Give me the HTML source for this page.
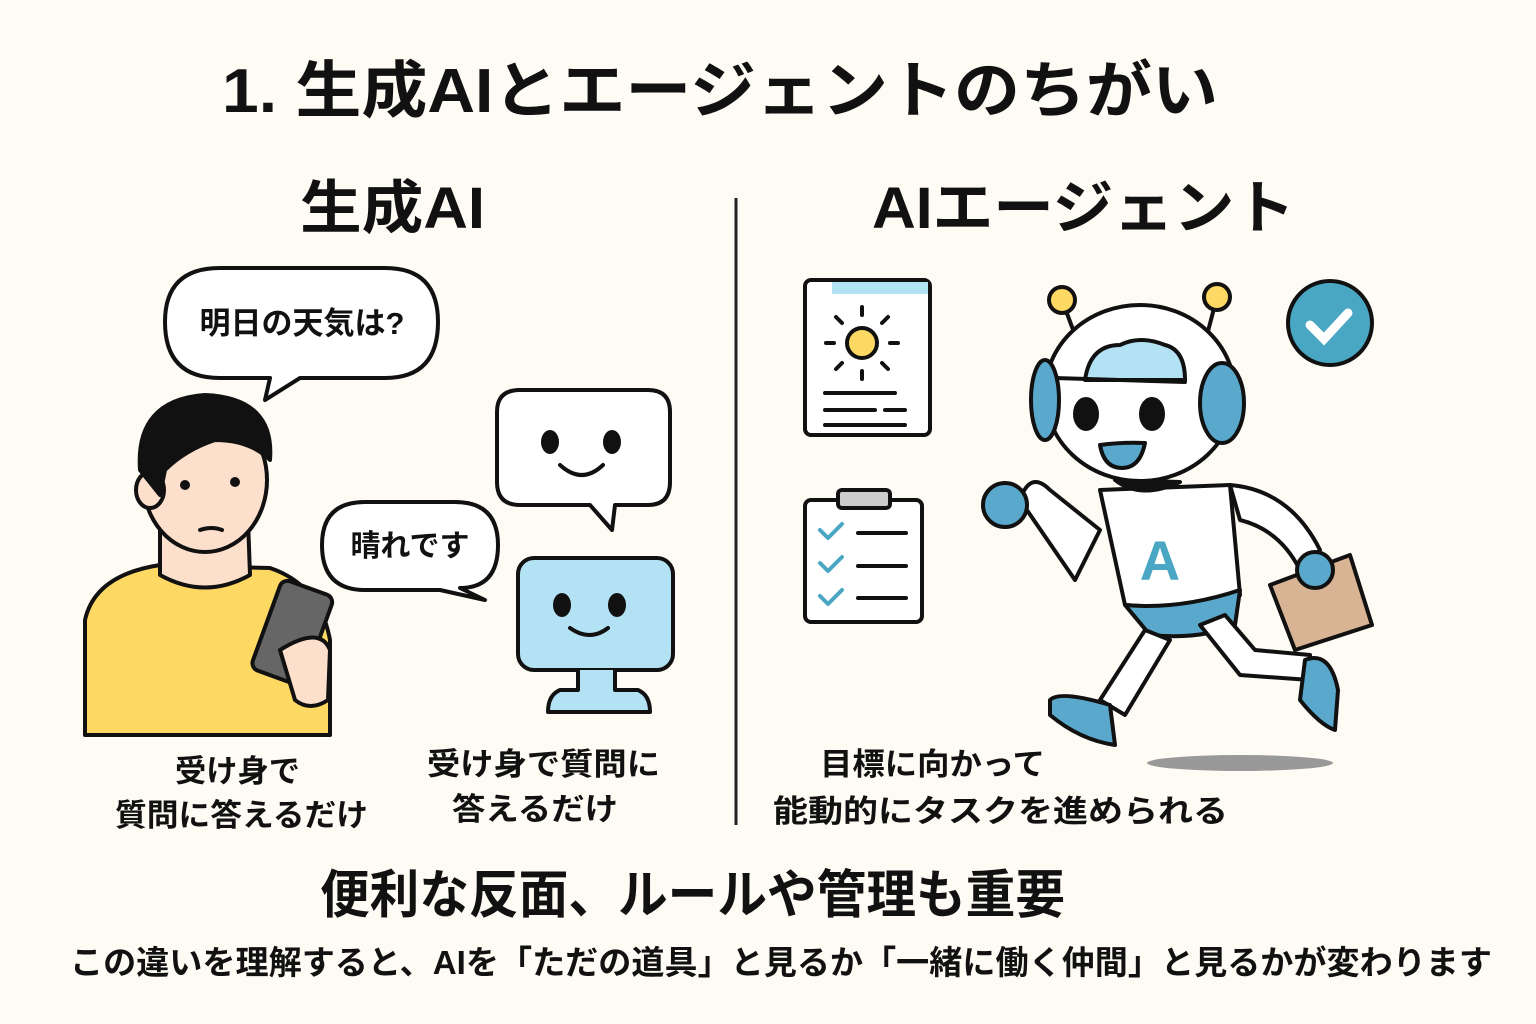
<!DOCTYPE html>
<html><head><meta charset="utf-8"><style>
body{margin:0;background:#fdfbf3;}
svg{display:block}
text{font-family:"Liberation Sans","Noto Sans CJK JP",sans-serif;fill:#111;font-weight:bold}
</style></head><body>
<svg width="1536" height="1024" viewBox="0 0 1536 1024" xmlns="http://www.w3.org/2000/svg">
<rect width="1536" height="1024" fill="#fdfbf3"/>
<text x="222" y="112" font-size="62" textLength="996" lengthAdjust="spacingAndGlyphs">1. 生成AIとエージェントのちがい</text>
<text x="300" y="228" font-size="58" textLength="185" lengthAdjust="spacingAndGlyphs">生成AI</text>
<text x="872" y="228" font-size="58" textLength="423" lengthAdjust="spacingAndGlyphs">AIエージェント</text>
<line x1="736" y1="198" x2="736" y2="825" stroke="#222" stroke-width="3"/>

<g stroke="#111" stroke-width="4" stroke-linejoin="round" stroke-linecap="round">
<path d="M220,268 H385 Q438,268 438,322 Q438,378 385,378 H300 L265,400 L270,378 H220 Q165,378 165,322 Q165,268 220,268Z" fill="#fff"/>
<path d="M85,735 L85,620 Q95,575 160,565 L270,568 Q320,585 330,640 L330,735Z" fill="#fdd862"/>
<path d="M160,520 L160,575 Q205,600 250,575 L248,520Z" fill="#fde0cc"/>
<ellipse cx="205" cy="480" rx="62" ry="72" fill="#fde0cc"/>
<ellipse cx="150" cy="490" rx="14" ry="18" fill="#fde0cc"/>
<path d="M140,470 Q135,400 205,395 Q275,398 270,460 Q250,440 215,440 Q185,450 165,470 L160,495Z" fill="#111"/>
<rect x="265" y="585" width="55" height="95" rx="8" transform="rotate(20 292 632)" fill="#666"/>
<path d="M280,650 Q320,625 330,650 L328,700 Q310,712 295,700Z" fill="#fde0cc"/>
<path d="M365,502 H455 Q498,502 498,545 Q498,588 460,588 L485,600 L440,590 H365 Q322,590 322,545 Q322,502 365,502Z" fill="#fff"/>
<path d="M520,390 H648 Q670,390 670,412 V482 Q670,505 648,505 H615 L612,530 L590,505 H520 Q497,505 497,482 V412 Q497,390 520,390Z" fill="#fff"/>
<rect x="518" y="558" width="155" height="112" rx="16" fill="#b3e2f5"/>
<path d="M578,670 V690 H560 Q548,695 548,712 H650 Q650,695 638,690 H615 V670" fill="#b3e2f5"/>
<rect x="805" y="280" width="125" height="155" rx="6" fill="#fff"/>
<rect x="832" y="282" width="96" height="12" fill="#b3e2f5" stroke="none"/>
<circle cx="862" cy="343" r="15" fill="#fdd862"/>
<path d="M862,315v-8M862,371v8M834,343h-8M890,343h8M842,323l-6-6M882,323l6-6M842,363l-6 6M882,363l6 6M825,393h70M825,410h50M885,410h20M825,425h80" fill="none"/>
<rect x="805" y="500" width="117" height="122" rx="6" fill="#fff"/>
<rect x="838" y="490" width="52" height="18" rx="4" fill="#ccc"/>
<path d="M820,530l8,8 14,-14M820,563l8,8 14,-14M820,596l8,8 14,-14" stroke="#4aa7c4" fill="none"/>
<path d="M858,533h48M858,566h48M858,598h48" fill="none"/>
<line x1="1062" y1="300" x2="1075" y2="335"/><line x1="1217" y1="297" x2="1207" y2="335"/>
<circle cx="1062" cy="300" r="13" fill="#fdd862"/><circle cx="1217" cy="297" r="13" fill="#fdd862"/>
<path d="M1020,500 Q1030,470 1050,490 L1100,530 L1075,580 Z" fill="#fff"/>
<circle cx="1005" cy="505" r="22" fill="#5aa9cc"/>
<path d="M1100,490 L1230,485 L1240,595 Q1180,610 1125,605Z" fill="#fff"/>
<path d="M1115,480 Q1140,500 1180,482Z" fill="#111"/>
<path d="M1125,605 Q1180,610 1240,590 L1235,625 Q1200,640 1150,635Z" fill="#5aa9cc"/>
<path d="M1230,485 Q1290,490 1320,550 L1300,570 Q1280,530 1240,520Z" fill="#fff"/>
<path d="M1270,585 L1350,555 L1372,625 L1295,650Z" fill="#d8b394"/>
<circle cx="1315" cy="570" r="18" fill="#5aa9cc"/>
<path d="M1145,630 L1100,700 L1125,715 L1170,640Z" fill="#fff"/>
<path d="M1050,700 Q1060,690 1110,705 L1115,745 Q1080,740 1050,715Z" fill="#5aa9cc"/>
<path d="M1200,625 L1240,675 L1310,680 L1310,655 L1255,650 L1225,615Z" fill="#fff"/>
<path d="M1305,660 Q1330,650 1338,690 L1335,730 Q1320,725 1300,700Z" fill="#5aa9cc"/>
<ellipse cx="1140" cy="393" rx="95" ry="88" fill="#fff"/>
<path d="M1085,380 Q1090,345 1120,345 Q1140,335 1165,345 Q1185,350 1185,380Z" fill="#b3e2f5"/>
<line x1="1055" y1="378" x2="1185" y2="382"/>
<ellipse cx="1045" cy="400" rx="14" ry="40" fill="#5aa9cc"/>
<ellipse cx="1222" cy="403" rx="22" ry="40" fill="#5aa9cc"/>
<ellipse cx="1086" cy="414" rx="11" ry="15" fill="#111"/>
<ellipse cx="1152" cy="414" rx="11" ry="15" fill="#111"/>
<path d="M1100,445 Q1122,442 1145,443 Q1140,468 1122,468 Q1104,468 1100,445Z" fill="#5aa9cc"/>
<circle cx="1330" cy="323" r="42" fill="#4aa7c4"/>
</g>
<path d="M1310,325 l14,14 24,-26" stroke="#fff" stroke-width="9" fill="none" stroke-linecap="round"/>
<text x="1160" y="580" font-size="56" text-anchor="middle" style="fill:#4aa7c4">A</text>
<ellipse cx="1240" cy="763" rx="93" ry="8" fill="#999"/>
<g fill="#111"><ellipse cx="550" cy="442" rx="9" ry="12"/><ellipse cx="612" cy="442" rx="9" ry="12"/>
<ellipse cx="562" cy="605" rx="9" ry="12"/><ellipse cx="617" cy="605" rx="9" ry="12"/>
<circle cx="185" cy="485" r="5"/><circle cx="235" cy="482" r="5"/></g>
<path d="M560,465 Q582,485 603,465M570,628 Q590,642 608,628M200,530 Q212,526 222,530" stroke="#111" stroke-width="4" fill="none" stroke-linecap="round"/>

<text x="302" y="334" font-size="31" text-anchor="middle">明日の天気は?</text>
<text x="410" y="556" font-size="30" text-anchor="middle">晴れです</text>
<g font-size="31">
<text x="175" y="782" textLength="125" lengthAdjust="spacingAndGlyphs">受け身で</text>
<text x="115" y="826" textLength="253" lengthAdjust="spacingAndGlyphs">質問に答えるだけ</text>
<text x="427" y="775" textLength="233" lengthAdjust="spacingAndGlyphs">受け身で質問に</text>
<text x="452" y="820" textLength="166" lengthAdjust="spacingAndGlyphs">答えるだけ</text>
<text x="820" y="775" textLength="225" lengthAdjust="spacingAndGlyphs">目標に向かって</text>
<text x="773" y="822" textLength="455" lengthAdjust="spacingAndGlyphs">能動的にタスクを進められる</text>
</g>
<text x="320" y="913" font-size="52" textLength="745" lengthAdjust="spacingAndGlyphs">便利な反面、ルールや管理も重要</text>
<text x="70" y="974" font-size="33" textLength="1422" lengthAdjust="spacingAndGlyphs">この違いを理解すると、AIを「ただの道具」と見るか「一緒に働く仲間」と見るかが変わります</text>
</svg>
</body></html>
